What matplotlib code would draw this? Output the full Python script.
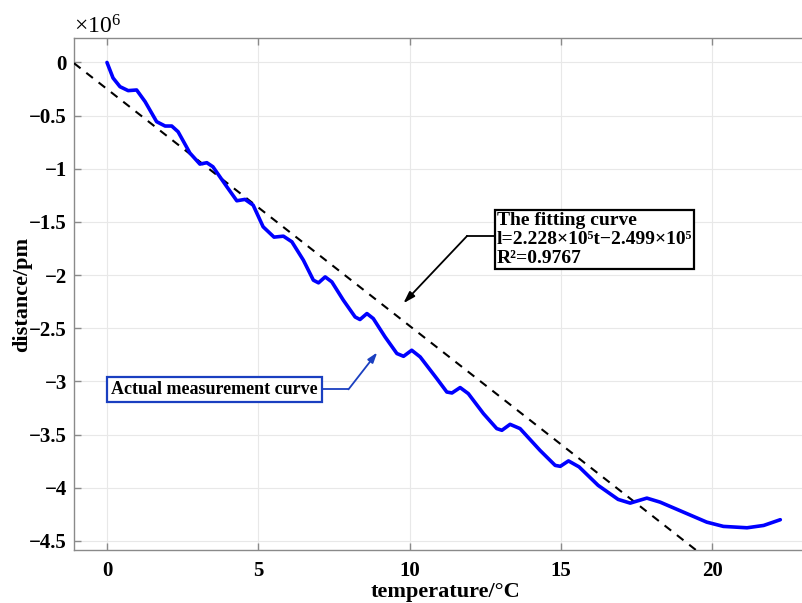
import matplotlib
matplotlib.use("Agg")
import matplotlib.pyplot as plt
from matplotlib.ticker import FuncFormatter
import numpy as np

plt.rcParams['font.family'] = ['Liberation Serif', 'DejaVu Serif']
plt.rcParams['mathtext.fontset'] = 'custom'
plt.rcParams['mathtext.rm'] = 'Liberation Serif'
plt.rcParams['mathtext.it'] = 'Liberation Serif:italic'
plt.rcParams['mathtext.bf'] = 'Liberation Serif:bold'

# measured displacement (units of 1e6 pm) versus temperature (°C)
temperature = [0.00, 0.20, 0.43, 0.70, 0.98, 1.26, 1.64, 1.92, 2.14, 2.35,
               2.74, 3.07, 3.30, 3.50, 3.96, 4.29, 4.56, 4.83, 5.16, 5.52,
               5.83, 6.11, 6.49, 6.82, 6.99, 7.21, 7.43, 7.81, 8.20, 8.36,
               8.59, 8.80, 9.19, 9.58, 9.80, 10.07, 10.35, 10.90, 11.23, 11.40,
               11.67, 11.94, 12.44, 12.88, 13.05, 13.32, 13.65, 14.31, 14.81, 14.98,
               15.25, 15.60, 16.23, 16.89, 17.29, 17.51, 17.84, 18.28, 19.05, 19.82,
               20.37, 21.15, 21.70, 22.25]
distance = [0.000, -0.146, -0.228, -0.265, -0.259, -0.369, -0.557, -0.598, -0.598, -0.652,
            -0.852, -0.956, -0.943, -0.981, -1.169, -1.301, -1.288, -1.342, -1.546, -1.643,
            -1.634, -1.687, -1.860, -2.048, -2.073, -2.017, -2.064, -2.236, -2.394, -2.418,
            -2.362, -2.409, -2.582, -2.738, -2.764, -2.707, -2.770, -2.974, -3.100, -3.109,
            -3.058, -3.115, -3.303, -3.444, -3.460, -3.404, -3.444, -3.649, -3.790, -3.799,
            -3.748, -3.804, -3.978, -4.110, -4.145, -4.126, -4.098, -4.136, -4.230, -4.324,
            -4.364, -4.377, -4.355, -4.301]

# linear fit l = -2.228e5 t - 2.499e5 (pm)
fit_slope = -2.228e5
fit_intercept = -2.499e5

x_ticks = [0, 5, 10, 15, 20]
y_ticks = [-4.5, -4, -3.5, -3, -2.5, -2, -1.5, -1, -0.5, 0]
x_limits = (-1.09, 23.0)
y_limits = (-4.586, 0.230)

fig = plt.figure(figsize=(8.03, 6.03), dpi=100)
ax = fig.add_axes([74 / 803, 53 / 603, 1 - 74 / 803, (550 - 38) / 603])

t_fit = np.array(x_limits)
l_fit = (fit_slope * t_fit + fit_intercept) / 1e6
ax.plot(t_fit, l_fit, color='black', linestyle=(0, (4, 3.5)), linewidth=1.5, zorder=3)
ax.plot(temperature, distance, color='#0000ff', linewidth=2.6, zorder=4,
        solid_joinstyle='round', solid_capstyle='round')

ax.set_xlim(*x_limits)
ax.set_ylim(*y_limits)
ax.set_xticks(x_ticks)
ax.set_yticks(y_ticks)

def fmt(v, pos):
    s = '%g' % v
    return s.replace('-', '\u2212')

ax.xaxis.set_major_formatter(FuncFormatter(fmt))
ax.yaxis.set_major_formatter(FuncFormatter(fmt))

ax.grid(True, color='#e8e8e8', linewidth=0.8)
ax.set_axisbelow(True)
spine_color = '#8a8a8a'
for side in ['left', 'top', 'bottom']:
    ax.spines[side].set_color(spine_color)
    ax.spines[side].set_linewidth(1.0)
ax.spines['right'].set_visible(False)
ax.tick_params(axis='both', direction='in', length=5, width=1.0, color=spine_color,
               labelsize=15, labelcolor='black')
ax.tick_params(axis='x', top=True, pad=8)
ax.tick_params(axis='y', pad=5)
for lab in ax.get_xticklabels() + ax.get_yticklabels():
    lab.set_fontweight('bold')

xl = ax.set_xlabel('temperature/°C', fontsize=16, fontweight='bold')
xl.set_verticalalignment('center')
ax.xaxis.set_label_coords(0.51, -0.083)
yl = ax.set_ylabel('distance/pm', fontsize=16, fontweight='bold')
yl.set_verticalalignment('center')
ax.yaxis.set_label_coords(-0.071, 0.50)

ax.text(0.0, 1.0, r'$\times10^{6}$', transform=ax.transAxes, fontsize=17,
        ha='left', va='bottom')

# fitted-curve annotation
ax.plot([12.79, 11.90], [-1.632, -1.632], color='black', linewidth=1.3, zorder=5)
ax.annotate('', xy=(9.795, -2.265), xytext=(11.90, -1.632),
            arrowprops=dict(arrowstyle='-|>,head_length=0.7,head_width=0.22',
                            color='black', linewidth=1.3, shrinkA=0, shrinkB=0),
            zorder=5)
ax.text(12.88, -1.665,
        'The fitting curve\nl=2.228\u00d710\u2075t\u22122.499\u00d710\u2075\nR\u00b2=0.9767',
        fontsize=14, fontweight='bold', ha='left', va='center', linespacing=1.15,
        bbox=dict(boxstyle='square,pad=0.1', facecolor='white', edgecolor='black',
                  linewidth=1.6), zorder=6)

# measured-curve annotation
meas_color = '#1a3fc0'
ax.plot([7.15, 7.98], [-3.075, -3.075], color=meas_color, linewidth=1.3, zorder=5)
ax.annotate('', xy=(8.93, -2.728), xytext=(7.98, -3.075),
            arrowprops=dict(arrowstyle='-|>,head_length=0.6,head_width=0.2',
                            color=meas_color, linewidth=1.3, shrinkA=0, shrinkB=0),
            zorder=5)
ax.text(0.14, -3.075, 'Actual measurement curve', fontsize=13, fontweight='bold',
        ha='left', va='center',
        bbox=dict(boxstyle='square,pad=0.22', facecolor='white', edgecolor=meas_color,
                  linewidth=1.6), zorder=6)

fig.savefig('out.png', dpi=100)
